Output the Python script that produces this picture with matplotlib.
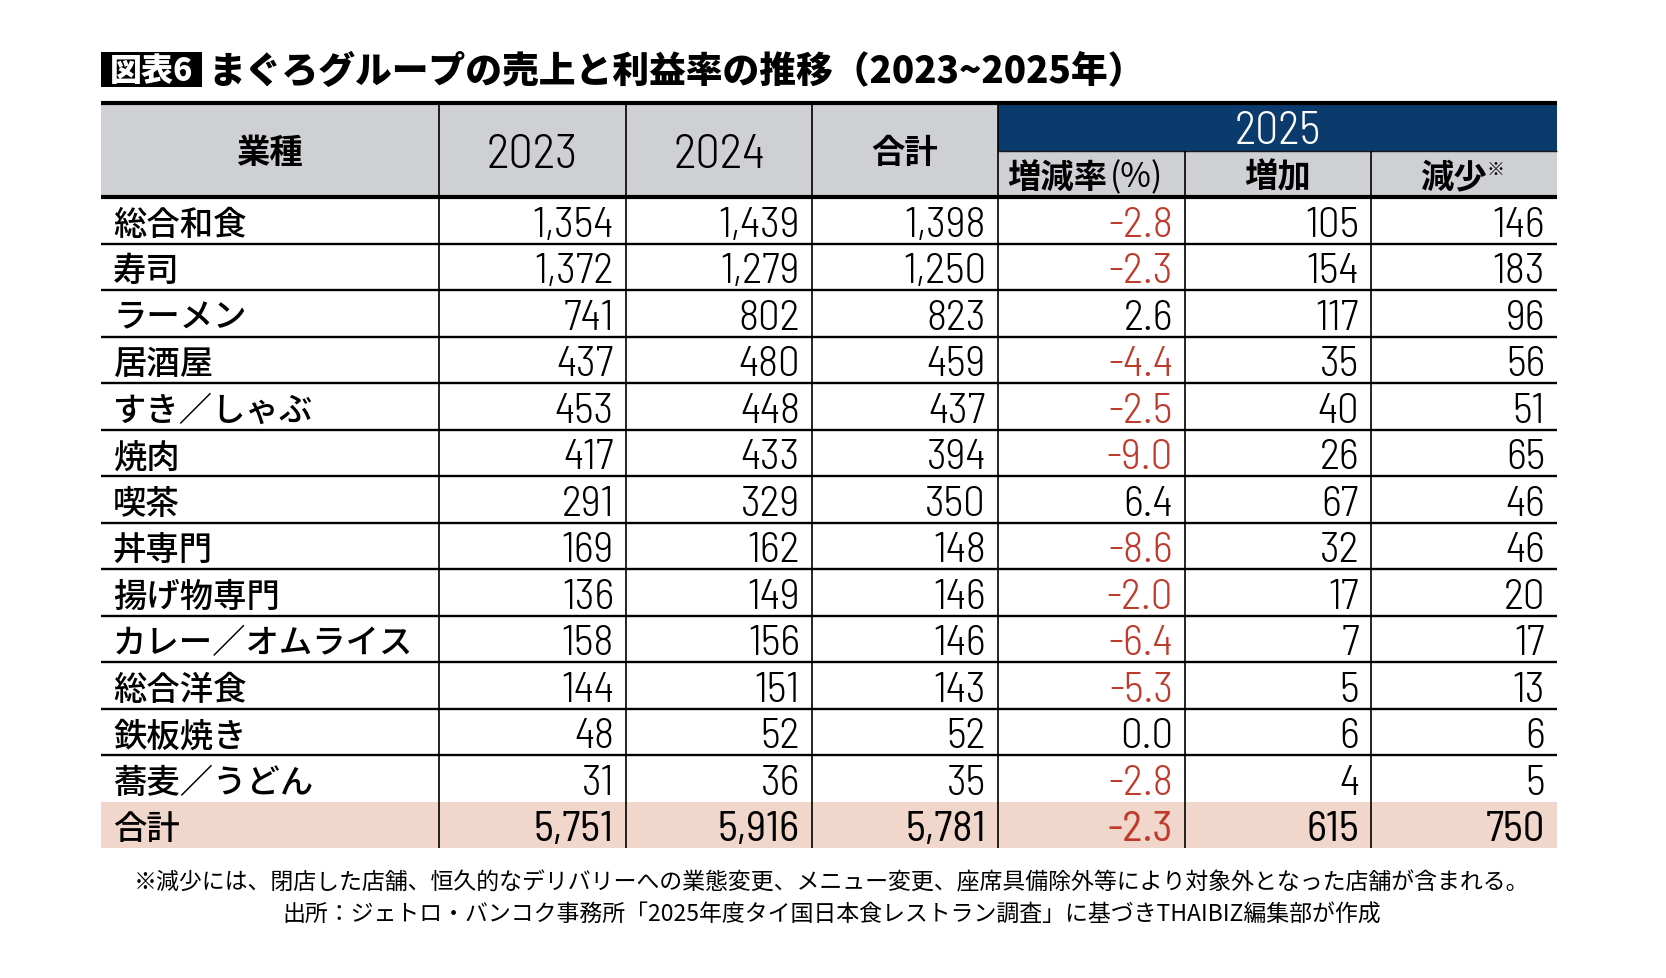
import matplotlib
matplotlib.use("Agg")
from matplotlib import pyplot as plt
from matplotlib import font_manager
from matplotlib.patches import Rectangle

# ---- data ----
categories = ["総合和食", "寿司", "ラーメン", "居酒屋", "すき／しゃぶ", "焼肉", "喫茶",
              "丼専門", "揚げ物専門", "カレー／オムライス", "総合洋食", "鉄板焼き", "蕎麦／うどん"]
stores_2023 = [1354, 1372, 741, 437, 453, 417, 291, 169, 136, 158, 144, 48, 31]
stores_2024 = [1439, 1279, 802, 480, 448, 433, 329, 162, 149, 156, 151, 52, 36]
stores_2025 = [1398, 1250, 823, 459, 437, 394, 350, 148, 146, 146, 143, 52, 35]
change_pct = [-2.8, -2.3, 2.6, -4.4, -2.5, -9.0, 6.4, -8.6, -2.0, -6.4, -5.3, 0.0, -2.8]
opened = [105, 154, 117, 35, 40, 26, 67, 32, 17, 7, 5, 6, 4]
closed = [146, 183, 96, 56, 51, 65, 46, 46, 20, 17, 13, 6, 5]

total_label = "合計"
total_2023, total_2024, total_2025 = 5751, 5916, 5781
total_change, total_opened, total_closed = -2.3, 615, 750

headers = ["業種", "2023", "2024", "合計"]
group_header = "2025"

title_tag = "図表6"
title = "まぐろグループの売上と利益率の推移（2023~2025年）"
notes = ["※減少には、閉店した店舗、恒久的なデリバリーへの業態変更、メニュー変更、座席具備除外等により対象外となった店舗が含まれる。",
         "出所：ジェトロ・バンコク事務所「2025年度タイ国日本食レストラン調査」に基づきTHAIBIZ編集部が作成"]

# ---- style ----
W, H = 1666, 979
JP = ["Noto Sans CJK JP", "DejaVu Sans"]
names = {f.name for f in font_manager.fontManager.ttflist}
NUM = ["Barlow Semi Condensed"] if "Barlow Semi Condensed" in names else ["DejaVu Sans"]
NAVY = "#0b3a6d"
GREY = "#cfd0d4"
PINK = "#f0d6cb"
RED = "#bf3a2b"

col_edges = [101, 439, 626, 812, 998, 1185, 1371, 1557]
top = 104
mid = 152
head_bot = 198
row_h = 46.5
pad = 12
dy = 3  # text baseline nudge

fig = plt.figure(figsize=(W / 100, H / 100), dpi=100)
ax = fig.add_axes([0, 0, 1, 1])
ax.set_xlim(0, W)
ax.set_ylim(H, 0)
ax.axis("off")

# title
ax.add_patch(Rectangle((101, 53), 101, 35, color="black", lw=0))
ax.text(151.5, 71, title_tag, color="white", fontsize=23, fontweight=900,
        family=JP, ha="center", va="center")
ax.text(208, 72, title, fontsize=26.5, fontweight=900, family=JP,
        ha="left", va="center")

# header backgrounds
ax.add_patch(Rectangle((col_edges[0], top), col_edges[4] - col_edges[0], head_bot - top,
                       color=GREY, lw=0))
ax.add_patch(Rectangle((col_edges[4], top), col_edges[7] - col_edges[4], mid - top,
                       color=NAVY, lw=0))
ax.add_patch(Rectangle((col_edges[4], mid), col_edges[7] - col_edges[4], head_bot - mid,
                       color=GREY, lw=0))

for i, h in enumerate(headers):
    cx = (col_edges[i] + col_edges[i + 1]) / 2
    if i in (1, 2):
        ax.text(cx, (top + head_bot) / 2 + 2 + dy, h, fontsize=35, fontweight=300,
                family=NUM, ha="center", va="center")
    else:
        ax.text(cx, (top + head_bot) / 2 + dy, h, fontsize=24, fontweight="bold",
                family=JP, ha="center", va="center")

ax.text((col_edges[4] + col_edges[7]) / 2, (top + mid) / 2 + 1 + dy, group_header,
        fontsize=33, fontweight=300, family=NUM, color="white", ha="center", va="center")

sub_y = (mid + head_bot) / 2 + dy
ax.text(1107, sub_y, "増減率", fontsize=24, fontweight="bold", family=JP,
        ha="right", va="center")
ax.text(1110, sub_y, "(%)", fontsize=24, fontweight=400, family=JP,
        ha="left", va="center")
cx = (col_edges[5] + col_edges[6]) / 2
ax.text(cx, sub_y, "増加", fontsize=24, fontweight="bold", family=JP,
        ha="center", va="center")
cx = (col_edges[6] + col_edges[7]) / 2
ax.text(cx - 11, sub_y, "減少", fontsize=24, fontweight="bold", family=JP,
        ha="center", va="center")
ax.text(cx + 23, sub_y - 8, "※", fontsize=13, family=JP, ha="left", va="center")

# total row background
n = len(categories)
total_top = head_bot + n * row_h
ax.add_patch(Rectangle((col_edges[0], total_top), col_edges[7] - col_edges[0], row_h,
                       color=PINK, lw=0))

# data rows
rows = list(zip(categories, stores_2023, stores_2024, stores_2025, change_pct, opened, closed))
rows.append((total_label, total_2023, total_2024, total_2025, total_change,
             total_opened, total_closed))
for r, (name, a, b, c, pct, inc, dec) in enumerate(rows):
    cy = head_bot + (r + 0.5) * row_h + 1 + dy
    is_total = r == n
    ax.text(col_edges[0] + pad, cy, name, fontsize=24, fontweight=500, family=JP,
            ha="left", va="center")
    vals = [f"{a:,}", f"{b:,}", f"{c:,}", f"{pct:.1f}", f"{inc:,}", f"{dec:,}"]
    for k, v in enumerate(vals):
        color = RED if (k == 3 and pct < 0) else "black"
        ax.text(col_edges[k + 2] - pad, cy + 1, v, fontsize=31,
                fontweight=400 if is_total else 300, family=NUM, color=color,
                ha="right", va="center")

# lines
ax.plot([col_edges[0], col_edges[7]], [top, top], color="black", lw=3, solid_capstyle="butt")
ax.plot([col_edges[4], col_edges[7]], [mid, mid], color="#1a1a1a", lw=1, solid_capstyle="butt")
ax.plot([col_edges[0], col_edges[7]], [head_bot, head_bot], color="black", lw=3,
        solid_capstyle="butt")
for r in range(1, n):
    y = head_bot + r * row_h
    ax.plot([col_edges[0], col_edges[7]], [y, y], color="black", lw=1.7, solid_capstyle="butt")
bottom = total_top + row_h
for k in range(1, 7):
    y0 = mid if k >= 5 else top
    ax.plot([col_edges[k], col_edges[k]], [y0, bottom], color="black", lw=1.2,
            solid_capstyle="butt")

# notes
ax.text(832, 883, notes[0], fontsize=16.5, family=JP, ha="center", va="center")
ax.text(832, 915, notes[1], fontsize=16.5, family=JP, ha="center", va="center")

plt.savefig("out.png", dpi=100)
